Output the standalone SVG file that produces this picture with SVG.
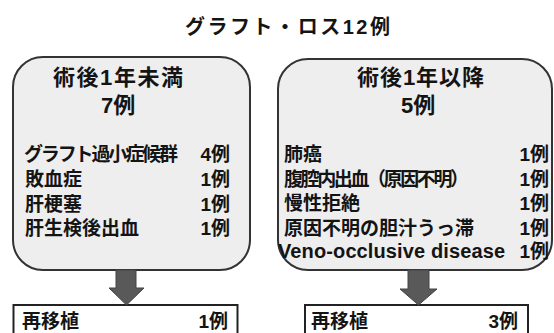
<svg xmlns="http://www.w3.org/2000/svg" width="554" height="333" viewBox="0 0 554 333">
<style>
text{font-family:"Liberation Sans","Noto Sans CJK JP",sans-serif;font-weight:bold;fill:#141414;}
.t{font-size:20px;}
.h{font-size:22px;}
.l{font-size:19px;}
.e{text-anchor:end;}
.box{fill:#eeeeee;stroke:#333;stroke-width:2;}
.res{fill:#fff;stroke:#222;stroke-width:2;}
.arr{fill:#595959;stroke:#444;stroke-width:1;}
</style>
<rect width="554" height="333" fill="#fff"/>
<g id="title"><text class="t" x="185" y="34" textLength="205">グラフト・ロス12例</text></g>
<g id="early">
<rect class="box" x="13" y="57" width="237" height="213" rx="30" ry="30"/>
<text class="h" x="53" y="85" textLength="130">術後1年未満</text>
<text class="h" x="101" y="113">7例</text>
<text class="l" x="24" y="161" textLength="154">グラフト過小症候群</text><text class="l e" x="230" y="161">4例</text>
<text class="l" x="25" y="186">敗血症</text><text class="l e" x="230" y="186">1例</text>
<text class="l" x="25" y="211">肝梗塞</text><text class="l e" x="230" y="211">1例</text>
<text class="l" x="25" y="235">肝生検後出血</text><text class="l e" x="230" y="235">1例</text>
</g>
<g id="late">
<rect class="box" x="278" y="59" width="274" height="211" rx="30" ry="30"/>
<text class="h" x="357" y="85" textLength="127">術後1年以降</text>
<text class="h" x="401" y="113">5例</text>
<text class="l" x="284" y="161">肺癌</text><text class="l e" x="549" y="161">1例</text>
<text class="l" x="284" y="186" textLength="185">腹腔内出血（原因不明）</text><text class="l e" x="549" y="186">1例</text>
<text class="l" x="284" y="210">慢性拒絶</text><text class="l e" x="549" y="210">1例</text>
<text class="l" x="284" y="235">原因不明の胆汁うっ滞</text><text class="l e" x="549" y="235">1例</text>
<text class="l" x="278" y="258" style="font-size:20px" textLength="227">Veno-occlusive disease</text><text class="l e" x="549" y="258">1例</text>
</g>
<g id="retx-early">
<rect class="res" x="13.5" y="305" width="224" height="45"/>
<text class="l" x="22" y="328">再移植</text><text class="l e" x="228" y="328">1例</text>
</g>
<g id="retx-late">
<rect class="res" x="305" y="305" width="223" height="45"/>
<text class="l" x="311" y="328">再移植</text><text class="l e" x="518" y="328">3例</text>
</g>
<g id="connectors">
<polygon class="arr" points="116,270 136,270 136,288 144,288 126.5,305 109,288 116,288"/>
<polygon class="arr" points="408,270 429,270 429,289 437,289 418.5,305 400,289 408,289"/>
</g>
</svg>
